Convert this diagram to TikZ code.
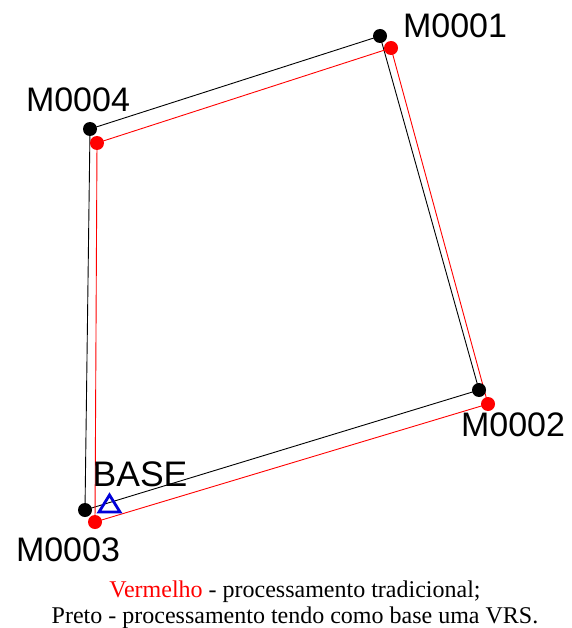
\documentclass[tikz,border=0pt]{standalone}
\usepackage{fontspec}
\setmainfont{Liberation Serif}
\setsansfont{Liberation Sans}
\begin{document}
\begin{tikzpicture}[x=1pt,y=-1pt,
  blk/.style={circle,fill=black,inner sep=0pt,minimum size=14pt},
  redd/.style={circle,fill=red,inner sep=0pt,minimum size=14pt},
  lbl/.style={font=\sffamily\fontsize{34}{34}\selectfont,inner sep=0pt},
  captxt/.style={font=\fontsize{24}{26}\selectfont,inner sep=0pt,anchor=base}]
\useasboundingbox (0,0) rectangle (571,628);
% black points
\coordinate (b1) at (380,36);
\coordinate (b2) at (479,390);
\coordinate (b3) at (85,510);
\coordinate (b4) at (90,129);
% red points
\coordinate (r1) at (391,48);
\coordinate (r2) at (488,404);
\coordinate (r3) at (95,522);
\coordinate (r4) at (97,143);
\draw[black,line width=0.9pt] (b1) -- (b2) -- (b3) -- (b4) -- cycle;
\draw[red,line width=0.9pt] (r1) -- (r2) -- (r3) -- (r4) -- cycle;
\node[blk] (nb1) at (b1) {};
\node[blk] (nb2) at (b2) {};
\node[blk] (nb3) at (b3) {};
\node[blk] (nb4) at (b4) {};
\node[redd] (nr1) at (r1) {};
\node[redd] (nr2) at (r2) {};
\node[redd] (nr3) at (r3) {};
\node[redd] (nr4) at (r4) {};
\draw[blue!85!black,line width=2.8pt,line join=miter] (99,512) -- (120,512) -- (109.5,495) -- cycle;
\node[lbl] (l1) at (455,26) {M0001};
\node[lbl] (l4) at (78,100) {M0004};
\node[lbl] (l2) at (513,425) {M0002};
\node[lbl] (l3) at (68,550) {M0003};
\node[lbl,font=\sffamily\fontsize{35.5}{35}\selectfont] (lb) at (140,474) {BASE};
\node[captxt] (c1) at (295,597) {\textcolor{red}{Vermelho} - processamento tradicional;};
\node[captxt] (c2) at (295,623) {Preto - processamento tendo como base uma VRS.};
\end{tikzpicture}
\end{document}
